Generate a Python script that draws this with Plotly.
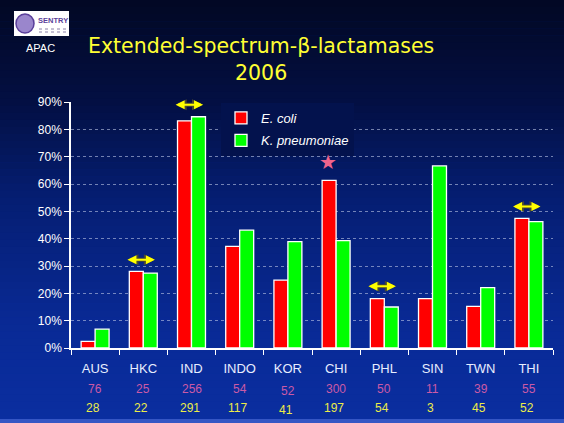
import plotly.graph_objects as go

## Data

countries = ["AUS", "HKC", "IND", "INDO", "KOR", "CHI", "PHL", "SIN", "TWN", "THI"]
ecoli_pct = [2.4, 28.0, 83.1, 37.2, 24.8, 61.3, 18.1, 18.1, 15.2, 47.4]
kpneu_pct = [6.9, 27.4, 84.6, 43.1, 38.9, 39.3, 15.0, 66.6, 22.1, 46.2]
ecoli_n = [76, 25, 256, 54, 52, 300, 50, 11, 39, 55]
kpneu_n = [28, 22, 291, 117, 41, 197, 54, 3, 45, 52]

# categories marked with a "no difference" double arrow, and the arrow height
arrow_cats = ["HKC", "IND", "PHL", "THI"]
arrow_level = [32.3, 89.0, 22.6, 51.8]
# starred category / height
star_cat = "CHI"
star_level = 67.9

y_ticks = [0, 10, 20, 30, 40, 50, 60, 70, 80, 90]
y_labels = [str(v) + "%" for v in y_ticks]

W, H = 564, 423
ML, MR, MT, MB = 71, 11, 102, 75
PH = H - MT - MB


def py(ypix):
    # pixel row -> paper y
    return (H - MB - ypix) / PH


def px(xpix):
    return (xpix - ML) / (W - ML - MR)


fig = go.Figure()

fig.add_trace(go.Bar(x=countries, y=ecoli_pct, name="<i>E. coli</i>",
                     marker=dict(color="#ff0000", line=dict(color="white", width=1.3)),
                     legendgroup="a"))
fig.add_trace(go.Bar(x=countries, y=kpneu_pct, name="<i>K. pneumoniae</i>",
                     marker=dict(color="#00ff00", line=dict(color="white", width=1.3)),
                     legendgroup="b"))

## background gradient (dark navy at top -> blue at bottom)
stops = [(0, (2, 8, 36)), (100, (3, 15, 66)), (200, (5, 30, 115)),
         (330, (9, 42, 150)), (423, (10, 46, 160))]


def grad(yv):
    for (y0, c0), (y1, c1) in zip(stops[:-1], stops[1:]):
        if y0 <= yv <= y1:
            t = (yv - y0) / (y1 - y0)
            return tuple(int(round(a + (b - a) * t)) for a, b in zip(c0, c1))
    return stops[-1][1]


shapes = []
n = 60
for k in range(n):
    y0 = H * k / n
    y1 = H * (k + 1) / n + 0.6
    c = grad((y0 + y1) / 2)
    shapes.append(dict(type="rect", xref="paper", yref="paper", layer="below",
                       x0=px(-2), x1=px(W + 2), y0=py(y1), y1=py(y0),
                       fillcolor="rgb(%d,%d,%d)" % c, line_width=0))
# light strip at the bottom edge
shapes.append(dict(type="rect", xref="paper", yref="paper", layer="below",
                   x0=px(-2), x1=px(W + 2), y0=py(H + 2), y1=py(419),
                   fillcolor="#3556c4", line_width=0))
# logo box
shapes.append(dict(type="rect", xref="paper", yref="paper", layer="above",
                   x0=px(14), x1=px(69), y0=py(36), y1=py(11),
                   fillcolor="white", line_width=0))
shapes.append(dict(type="circle", xref="paper", yref="paper", layer="above",
                   x0=px(16), x1=px(34), y0=py(33), y1=py(14),
                   fillcolor="#9a86cc", line=dict(color="#5a3f9a", width=1.5)))
for yy in (29, 32):
    shapes.append(dict(type="line", xref="paper", yref="paper", layer="above",
                       x0=px(39), x1=px(67), y0=py(yy), y1=py(yy),
                       line=dict(color="#8a80a8", width=1, dash="dot")))

annotations = []

## title + corner text
title_font = dict(family="DejaVu Sans", size=20.5, color="#ffff33")
annotations.append(dict(text="Extended-spectrum-β-lactamases", x=px(261), y=py(46),
                        xref="paper", yref="paper", xanchor="center", yanchor="middle",
                        showarrow=False, font=title_font))
annotations.append(dict(text="2006", x=px(261), y=py(73),
                        xref="paper", yref="paper", xanchor="center", yanchor="middle",
                        showarrow=False, font=title_font))
annotations.append(dict(text="APAC", x=px(40), y=py(48), xref="paper", yref="paper",
                        xanchor="center", yanchor="middle", showarrow=False,
                        font=dict(family="Liberation Sans", size=11, color="white")))
annotations.append(dict(text="<b>SENTRY</b>", x=px(53), y=py(21), xref="paper", yref="paper",
                        xanchor="center", yanchor="middle", showarrow=False,
                        font=dict(family="Liberation Sans", size=7.5, color="#5a3f9a")))

## isolate counts under the categories
for i, c in enumerate(countries):
    annotations.append(dict(text=str(ecoli_n[i]), x=c, y=py(389), xref="x", yref="paper",
                            xanchor="center", yanchor="middle",
                            showarrow=False, yshift=-2 if c == "KOR" else 0,
                            font=dict(family="Liberation Sans", size=12, color="#cc5aa6")))
    annotations.append(dict(text=str(kpneu_n[i]), x=c, y=py(408), xref="x", yref="paper",
                            xanchor="center", yanchor="middle",
                            showarrow=False, yshift=-2 if c == "KOR" else 0, xshift=-2,
                            font=dict(family="Liberation Sans", size=12, color="#ecec48")))

## double arrows (dark outline, then yellow)
for c, lv in zip(arrow_cats, arrow_level):
    i = countries.index(c)
    for col, w, s in [("#4a4a30", 4, 0.55), ("#ffff00", 2, 0.9)]:
        annotations.append(dict(x=i - 0.06 + 0.3, y=lv, ax=i - 0.06 - 0.3, ay=lv,
                                xref="x", yref="y", axref="x", ayref="y", text="",
                                showarrow=True, arrowhead=2, arrowside="end+start",
                                arrowsize=s, arrowwidth=w, arrowcolor=col))

## star over the CHI E. coli bar
annotations.append(dict(text="★", x=star_cat, y=star_level, xref="x", yref="y",
                        xshift=-8, showarrow=False,
                        font=dict(family="DejaVu Sans", size=20, color="#f0648c")))

fig.update_layout(
    width=W, height=H,
    margin=dict(l=ML, r=MR, t=MT, b=MB),
    paper_bgcolor="rgb(10,46,160)",
    plot_bgcolor="rgba(0,0,0,0)",
    barmode="group", bargap=0.42, bargroupgap=0,
    font=dict(family="Liberation Sans", color="white", size=12),
    shapes=shapes, annotations=annotations,
    legend=dict(x=px(221), y=py(103), xanchor="left", yanchor="top",
                bgcolor="rgb(%d,%d,%d)" % grad(122), font=dict(size=13, color="white"),
                traceorder="grouped", tracegroupgap=2.5, itemwidth=30),
)

fig.update_xaxes(showline=True, linecolor="white", linewidth=1.5,
                 ticks="outside", tickson="boundaries", ticklen=5, tickcolor="white",
                 tickfont=dict(size=13, color="#e8eeff"), ticklabelstandoff=8,
                 showgrid=False)
fig.update_yaxes(range=[0, 90], tickvals=y_ticks, ticktext=y_labels,
                 showline=True, linecolor="white", linewidth=1.5,
                 ticks="outside", ticklen=5, tickcolor="white",
                 tickfont=dict(size=12, color="white"),
                 showgrid=True, gridcolor="rgba(190,200,230,0.6)", griddash="dot", gridwidth=1,
                 zeroline=False)

# page body has a default margin; drop it so the figure sits at the window corner
fig.write_html("out.html", config={"displayModeBar": False},
               post_script="document.body.style.margin='0';")
